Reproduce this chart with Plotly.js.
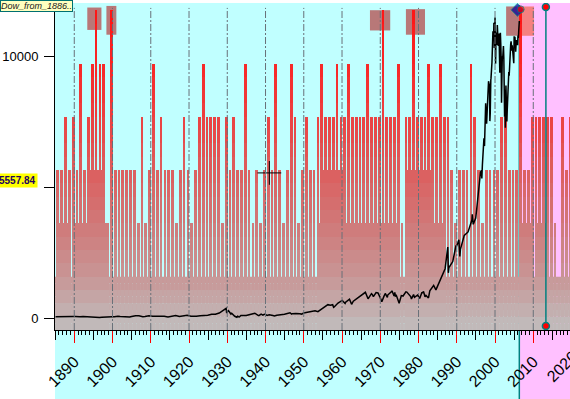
<!DOCTYPE html>
<html><head><meta charset="utf-8">
<script src="https://cdn.plot.ly/plotly-3.0.1.min.js"></script>
<style>html,body{margin:0;padding:0;background:#fff;}#chart{width:570px;height:399px;}</style>
</head><body><div id="chart"></div>
<script>
// ---- Dow series (decimal year, value) ----
const dowDates = [1885.1,1886.0,1886.5,1887.0,1887.9,1888.5,1889.5,1890.3,1890.9,1891.5,1892.3,1893.0,1893.6,1894.3,1895.3,1896.0,1896.6,1897.2,1897.9,1898.3,1898.9,1899.3,1899.9,1900.5,1900.9,1901.4,1902.0,1903.0,1903.9,1904.5,1905.0,1906.0,1906.9,1907.9,1908.5,1909.5,1910.5,1911.5,1912.5,1913.5,1914.5,1915.5,1916.5,1917.5,1918.5,1919.5,1920.5,1921.6,1921.9,1922.9,1923.9,1924.9,1925.9,1926.9,1927.9,1928.9,1929.7,1929.85,1929.95,1930.3,1930.95,1931.15,1931.95,1932.5,1932.7,1932.95,1933.15,1933.55,1933.95,1934.55,1934.95,1935.95,1936.95,1937.2,1937.95,1938.25,1938.85,1939.3,1939.7,1939.95,1940.4,1940.95,1941.95,1942.3,1942.95,1943.55,1943.95,1944.95,1945.95,1946.4,1946.8,1946.95,1947.95,1948.45,1948.95,1949.45,1949.95,1950.95,1951.95,1952.95,1953.7,1953.95,1954.95,1955.95,1956.3,1956.95,1957.55,1957.8,1957.95,1958.95,1959.95,1960.05,1960.8,1960.95,1961.95,1962.5,1962.95,1963.95,1964.95,1965.95,1966.1,1966.8,1966.95,1967.7,1967.95,1968.2,1968.9,1969.4,1969.95,1970.4,1970.95,1971.3,1971.85,1971.95,1972.95,1973.05,1973.6,1973.8,1973.95,1974.2,1974.93,1975.5,1975.95,1976.7,1976.95,1977.95,1978.15,1978.7,1978.95,1979.8,1979.95,1980.3,1980.9,1980.95,1981.3,1981.7,1981.95,1982.6,1982.95,1983.95,1984.55,1984.95,1985.95,1986.95,1987.65,1987.8,1987.95,1988.95,1989.8,1989.95,1990.55,1990.8,1990.95,1991.95,1992.95,1993.95,1994.05,1994.3,1994.95,1995.2,1995.45,1995.7,1995.95,1996.2,1996.45,1996.55,1996.7,1996.95,1997.1,1997.25,1997.45,1997.55,1997.8,1997.95,1998.2,1998.3,1998.55,1998.65,1998.75,1998.9,1998.95,1999.2,1999.3,1999.4,1999.45,1999.55,1999.65,1999.7,1999.8,1999.9,2000.0,2000.05,2000.15,2000.2,2000.25,2000.3,2000.4,2000.5,2000.6,2000.65,2000.75,2000.85,2000.9,2001.0,2001.1,2001.2,2001.25,2001.35,2001.4,2001.5,2001.6,2001.7,2001.72,2001.8,2001.9,2002.0,2002.1,2002.2,2002.3,2002.4,2002.5,2002.55,2002.6,2002.7,2002.78,2002.85,2002.9,2003.0,2003.1,2003.2,2003.3,2003.4,2003.5,2003.6,2003.7,2003.8,2003.9,2004.0,2004.1,2004.2,2004.3,2004.4,2004.5,2004.6,2004.7,2004.8,2004.9,2005.0,2005.1,2005.2,2005.3,2005.4,2005.5,2005.6,2005.7,2005.8,2005.9,2006.0,2006.1,2006.2,2006.3,2006.35];
const dowValues = [62,68,72,80,67,70,72,72,58,60,68,60,45,48,50,40,29,40,49,45,60,77,58,60,70,78,65,50,43,47,70,100,95,58,70,100,80,82,90,80,55,90,110,70,80,115,80,64,81,99,95,120,156,157,200,300,381,199,248,294,165,194,78,41,79,60,50,108,100,85,104,144,180,194,121,99,158,121,155,150,111,131,110,93,119,145,135,152,193,212,163,177,181,193,177,161,200,235,269,291,255,281,404,488,521,499,520,419,435,583,679,685,566,616,731,535,652,763,874,969,995,744,786,943,905,825,985,969,800,631,839,950,798,890,1020,1051,851,987,851,878,577,870,852,1014,1004,831,742,907,805,897,838,759,1000,963,1024,824,875,777,1047,1259,1086,1212,1547,1896,2722,1738,1939,2169,2791,2753,2999,2365,2634,3169,3301,3754,3978,3593,3834,4158,4556,4789,5117,5588,5655,5349,5882,6448,6877,6583,7673,8223,7442,7908,8800,9063,8883,7539,7843,9117,9181,9786,10789,10560,10971,10655,10829,11300,10337,10878,11497,10941,9731,10128,10922,10734,10522,10448,11215,10651,10971,10415,10787,10887,10495,9879,9389,10735,10912,10502,9950,8236,8848,9852,10021,9920,10106,10404,9946,9243,7702,8737,8664,7286,8397,8896,8342,8054,7524,7992,8480,8985,9234,9416,9275,9801,9782,10454,10488,10584,10358,10226,10435,10140,10174,10027,9750,10783,10490,10766,10504,10193,10467,10641,10482,10569,10440,10806,10718,10993,11109,11367,11640];

// ---- event bars: yearly slots and level counts ----
const barYears = [];
for (let y = 1885; y <= 2019; y++) barYears.push(y);
const barLevels = [
 3,3,4,3,4, 3,5,3,4,5, 6,5,5,2,6,   // 1885-1899
 3,3,3,3,3, 3,2,4,2,3,              // 1900-1909
 5,3,4,3,3, 3,2,3,4,3,              // 1910-1919
 2,3,4,5,4, 4,4,4,2,4,              // 1920-1929
 3,4,3,3,5, 3,2,3,2,3,              // 1930-1939
 4,3,5,3,2, 3,5,4,2,3,              // 1940-1949
 4,3,3,4,5, 4,4,4,5,4,              // 1950-1959
 4,5,4,4,4, 4,5,4,4,4,              // 1960-1969
 6,4,4,4,5, 2,4,4,6,4,              // 1970-1979
 4,4,5,4,4, 5,4,4,3,2,              // 1980-1989
 3,3,3,5,4, 3,2,3,3,3,              // 1990-1999
 3,4,4,3,3, 3,6,3,3,4,              // 2000-2009
 4,4,4,4,4, 2,1,4,3,4               // 2010-2019
];
// ---- mid-year events (between yearly slots) ----
const midYears  = [1885,1886,1887, 1889,1890,1891,1892,1893,1894,1895,1896,1897,
                   1953,1954,1955,1956,1957,1958,1959,1960,1961,1962,1963,1964,1965,1966,1967,1968,1969,1970,1971,1972,1973,
                   1976,1977,1978,1979,1980,1981,1982,1983,1984,1985,
                   2006,2007,2008,2010,2011,2012];
const midLevels = [2,2,2, 2,2,2,2,3,3,3,3,2,
                   2,3,3,3,3,3,3,2,2,2,2,2,2,2,2,2,2,2,2,2,2,
                   3,3,3,3,3,3,3,2,2,2,
                   2,2,2,2,2,2];

// ---- event windows (boxes) ----
const boxStart = [1893.4, 1898.4, 1967.3, 1976.7, 2002.9];
const boxEnd   = [1897.1, 1901.0, 1972.6, 1981.7, 2010.2];
const boxTop   = [6.05, 6.08, 6.0, 6.02, 6.07];
const boxBottom= [5.63, 5.54, 5.62, 5.54, 5.52];

const forecastStart = 2006.35;
const cursorYear = 2013.3;
const cursorValues = [11900, -294];
const lastMarkX = [2005.85, 2006.7];
const lastMarkY = [11790, 11810];
const crossX = [1941.0];
const crossY = [5557.84];
const crossLabel = '5557.84';
const decades = [1890,1900,1910,1920,1930,1940,1950,1960,1970,1980,1990,2000,2010];
const cutLabel = '2020';

const X0 = 1884.96, X1 = 2019.6;
const LV = [0, 6.135];

// gradient for bars/band
const stopsV = [0, 0.25, 1, 2, 3, 4, 5, 6.2];
const stopsC = [[192,190,190],[194,180,180],[200,150,150],[208,120,120],[220,94,94],[236,64,64],[248,38,38],[255,18,18]];
function grad(v){
  for (let i=0;i<stopsV.length-1;i++){
    if (v<=stopsV[i+1]){
      const t=(v-stopsV[i])/(stopsV[i+1]-stopsV[i]);
      const c=stopsC[i].map((a,k)=>Math.round(a+(stopsC[i+1][k]-a)*t));
      return 'rgb('+c.join(',')+')';
    }
  }
  return 'rgb(255,18,18)';
}

const traces = [];
const step = 0.25;
function addBars(years, levels, offset){
  for (let s = 0; s < 6; s += step) {
    const xs = [], ys = [];
    years.forEach((yr,i)=>{ if (levels[i] > s + 1e-9) { xs.push(yr); ys.push(step); } });
    if (!xs.length) continue;
    traces.push({type:'bar', x:xs, y:ys, base:s, width:0.72, offset:offset,
      marker:{color:grad(s+step/2), line:{width:0}}, xaxis:'x', yaxis:'y',
      hoverinfo:'skip', showlegend:false});
  }
}
addBars(midYears, midLevels, 0.84);
addBars(barYears, barLevels, 0.34);
// dummy trace for 5-year tick axis
traces.push({type:'scatter', x:[], y:[], xaxis:'x2', yaxis:'y', showlegend:false, hoverinfo:'skip'});
// Dow line
traces.push({type:'scatter', mode:'lines', x:dowDates, y:dowValues, xaxis:'x', yaxis:'y2',
  line:{color:'#000', width:1.5}, showlegend:false, hoverinfo:'skip'});
// cursor line in forecast area
traces.push({type:'scatter', mode:'lines+markers', x:[cursorYear,cursorYear], y:cursorValues, xaxis:'x', yaxis:'y2',
  line:{color:'#008080', width:1.5}, marker:{color:'#ff0000', size:7, line:{color:'#008080', width:1.5}},
  showlegend:false, hoverinfo:'skip'});
// end markers
traces.push({type:'scatter', mode:'markers', x:lastMarkX, y:lastMarkY, xaxis:'x', yaxis:'y2',
  marker:{symbol:['diamond','circle'], color:['#0000a0','#ff0000'], size:[10,7], line:{color:'#008080', width:1}},
  showlegend:false, hoverinfo:'skip'});
// crosshair
traces.push({type:'scatter', mode:'markers', x:crossX, y:crossY, xaxis:'x', yaxis:'y2',
  marker:{symbol:'cross-thin-open', size:17, color:'#000', line:{color:'#000', width:1}},
  showlegend:false, hoverinfo:'skip'});

const shapes = [];
shapes.push({type:'rect', layer:'below', xref:'x', yref:'paper', x0:X0-1, x1:forecastStart, y0:-1, y1:1, fillcolor:'#c0ffff', line:{width:0}});
shapes.push({type:'rect', layer:'below', xref:'x', yref:'paper', x0:forecastStart, x1:X1+1, y0:-1, y1:1, fillcolor:'#ffc0ff', line:{width:0}});
// bottom band (level 0-1) gradient
for (let v = 0; v < 1; v += 0.125) {
  shapes.push({type:'rect', layer:'below', xref:'x', yref:'y', x0:X0-1, x1:X1+1, y0:v, y1:v+0.125, fillcolor:grad(v+0.0625), line:{width:0}});
}
// event windows
boxStart.forEach((b,i)=>{
  const e = boxEnd[i];
  if (e <= forecastStart) {
    shapes.push({type:'rect', layer:'below', xref:'x', yref:'y', x0:b, x1:e, y0:boxBottom[i], y1:boxTop[i], fillcolor:'#b87878', line:{width:0}});
  } else {
    shapes.push({type:'rect', layer:'below', xref:'x', yref:'y', x0:b, x1:forecastStart, y0:boxBottom[i], y1:boxTop[i], fillcolor:'#b87878', line:{width:0}});
    shapes.push({type:'rect', layer:'below', xref:'x', yref:'y', x0:forecastStart, x1:e, y0:boxBottom[i], y1:boxTop[i], fillcolor:'#f68080', line:{width:0}});
  }
});
// forecast boundary line
shapes.push({type:'line', layer:'below', xref:'x', yref:'paper', x0:forecastStart, x1:forecastStart, y0:-1, y1:0.994, line:{color:'#008080', width:1.5}});
// decade grid lines above bars
decades.forEach(d=>{
  shapes.push({type:'line', layer:'above', xref:'x', yref:'paper', x0:d, x1:d, y0:0, y1:0.985, line:{color:'#687078', width:1, dash:'7px,2px,2px,2px'}});
});

const tickFont = {size:16, color:'#000', family:'Arial, Liberation Sans, sans-serif'};
const layout = {
  width:570, height:399,
  margin:{l:55, r:0, t:3, b:69, pad:0},
  paper_bgcolor:'#ffffff', plot_bgcolor:'#c0ffff',
  barmode:'overlay', bargap:0,
  showlegend:false,
  font:{family:'Arial, Liberation Sans, sans-serif', color:'#000'},
  xaxis:{range:[X0,X1], tickmode:'linear', tick0:1890, dtick:10, ticks:'outside', ticklen:12, tickwidth:1, tickcolor:'#ff0000',
    tickangle:-45, tickfont:tickFont, ticklabelstandoff:3, showgrid:false, zeroline:false, showline:true, linecolor:'#000', linewidth:1,
    minor:{dtick:1, ticks:'outside', ticklen:4, tickcolor:'#000', tickwidth:1, showgrid:false}, fixedrange:true},
  xaxis2:{overlaying:'x', anchor:'y', side:'bottom', range:[X0,X1], tickmode:'linear', tick0:1885, dtick:10, ticks:'outside', ticklen:9,
    tickcolor:'#000', tickwidth:1, showticklabels:false, showgrid:false, zeroline:false, showline:false},
  yaxis:{range:LV, visible:false, fixedrange:true},
  yaxis2:{overlaying:'y', side:'left', anchor:'x', range:[-447,12053], tickmode:'array', tickvals:[0,5000,10000], ticktext:['0','','10000'],
    ticks:'outside', ticklen:10, tickcolor:'#000', tickwidth:1, tickfont:{size:13, color:'#000'}, showgrid:false, zeroline:false,
    showline:true, linecolor:'#000', linewidth:1, ticklabelstandoff:3},
  shapes:shapes,
  annotations:[
    {xref:'paper', yref:'paper', x:-55/515, y:1+3/327, xanchor:'left', yanchor:'top', text:'<i>Dow_from_1886..</i>', showarrow:false,
     font:{size:9, color:'#202020', family:'Arial, Liberation Sans, sans-serif'}, bgcolor:'#ffffc0', bordercolor:'#007070', borderwidth:1, borderpad:0},
    {xref:'paper', yref:'y2', x:-17/515, y:crossY[0], xanchor:'right', yanchor:'top', text:'<b>'+crossLabel+'</b>', showarrow:false,
     font:{size:10, color:'#200060', family:'Arial, Liberation Sans, sans-serif'}, bgcolor:'#ffff00', borderpad:1},
    {xref:'paper', yref:'paper', x:(562-55)/515, y:-36/327, xanchor:'center', yanchor:'middle', text:cutLabel, textangle:-45, showarrow:false,
     font:tickFont}
  ]
};
Plotly.newPlot('chart', traces, layout, {staticPlot:true, displayModeBar:false});
</script></body></html>
